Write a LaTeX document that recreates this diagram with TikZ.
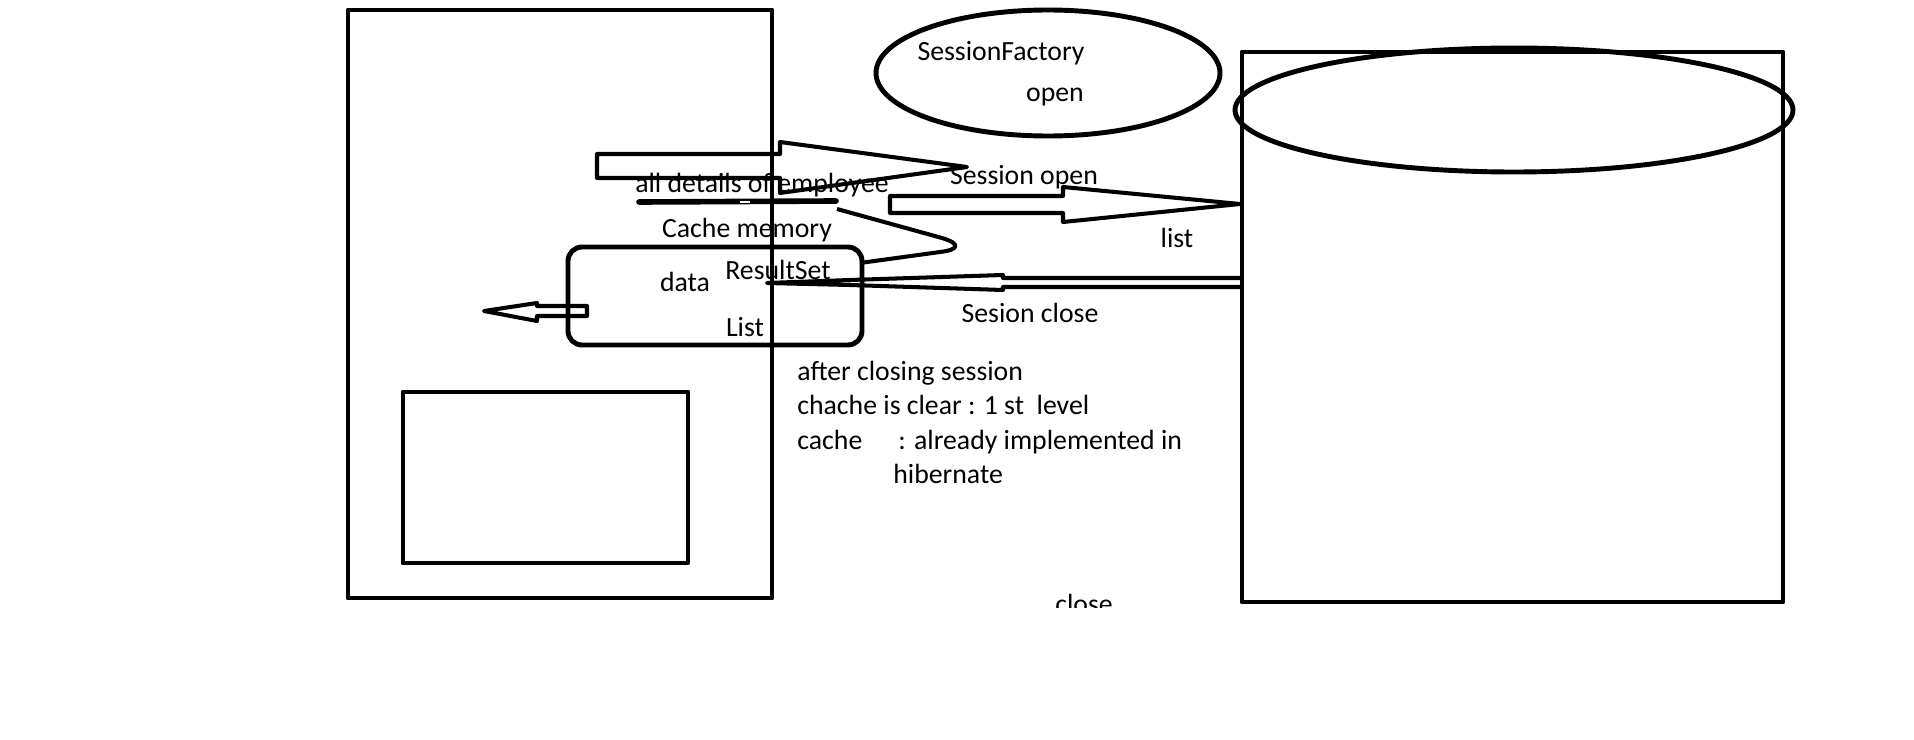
\documentclass[tikz,border=0pt]{standalone}
\usepackage{fontspec}
\setmainfont{Carlito}
\begin{document}
\begin{tikzpicture}[x=0.2mm, y=-0.2mm, line join=round,
    box/.style={line width=2.8pt},
    pen/.style={line width=2.3pt},
    lbl/.style={inner sep=0pt, font=\fontsize{15.8}{19.6}\selectfont}]
  \useasboundingbox (0, 0) rectangle (1914, 740);
  % boxes
  \draw[box] (348, 10) rectangle (772, 598);
  \draw[box] (403, 392) rectangle (688, 563);
  \draw[box] (1242, 52) rectangle (1783, 602);
  \draw[box, rounded corners=8pt] (568, 247) rectangle (862, 345);
  \draw[box] (1048, 73) ellipse (172 and 63);
  \draw[box] (1514, 110) ellipse (279 and 62);
  % arrows
  \draw[pen] (597, 154) -- (780, 154) -- (780, 142) -- (967, 167)
    -- (780, 193) -- (780, 178) -- (597, 178) -- cycle;
  \draw[pen] (890, 196) -- (1063, 196) -- (1063, 187) -- (1240, 204)
    -- (1063, 222) -- (1063, 213) -- (890, 213) -- cycle;
  \draw[pen] (587, 306) -- (537, 306) -- (537, 303) -- (484, 311)
    -- (537, 321) -- (537, 316) -- (587, 316) -- cycle;
  \draw[pen] (1240, 278) -- (1003, 278) -- (1003, 275) -- (850, 280)
    -- (767, 283) -- (850, 285) -- (1003, 290) -- (1003, 287) -- (1240, 287);
  % lines
  \draw[line width=3.2pt, line cap=round] (639, 202) -- (836, 201);
  \draw[white, line width=.6pt] (740, 202) -- (750, 202);
  \draw[pen] (837, 209) -- (942, 238) .. controls (962, 244) and (958, 250) .. (940, 252)
    -- (860, 263);
  % labels
  \node[lbl] (factory) at (1001, 53) {SessionFactory};
  \node[lbl] (open) at (1055, 97) {open};
  \node[lbl] (details) at (762, 185) {all details of employee};
  \node[lbl] (sopen) at (1024, 177) {Session open};
  \node[lbl] (cache) at (747, 230) {Cache memory};
  \node[lbl] (list) at (1177, 238) {list};
  \node[lbl] (resultset) at (778, 270) {ResultSet};
  \node[lbl] (data) at (685, 282) {data};
  \node[lbl] (sclose) at (1030, 313) {Sesion close};
  \node[lbl] (List) at (745, 327) {List};
  % note
  \node[lbl, anchor=base west] (note1) at (797, 380) {after closing session};
  \node[lbl, anchor=base west] (note2) at (797, 414) {chache is clear : 1 st\ \ level};
  \node[lbl, anchor=base west] (note3) at (797, 449) {cache};
  \node[lbl, anchor=base west] (note4) at (898, 449) {: already implemented in};
  \node[lbl, anchor=base west] (note5) at (893, 483) {hibernate};
  \begin{scope}
    \clip (0, 0) rectangle (1914, 607);
    \node[lbl, anchor=base] (close) at (1084, 613) {close};
  \end{scope}
\end{tikzpicture}
\end{document}
